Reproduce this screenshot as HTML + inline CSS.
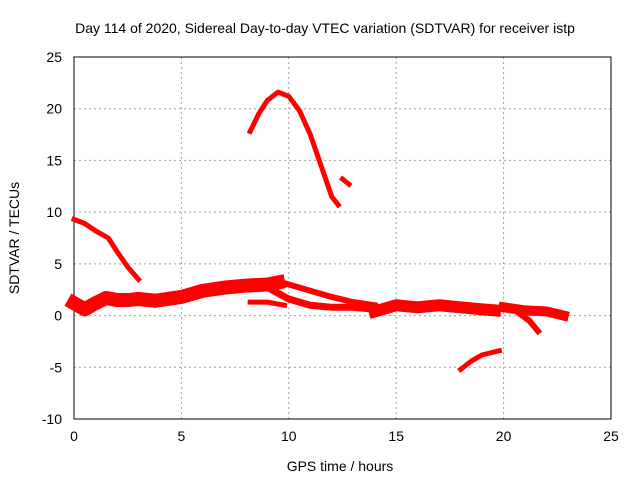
<!DOCTYPE html>
<html><head><meta charset="utf-8"><style>
body{margin:0;background:#fff}
svg{display:block;font-family:"Liberation Sans",sans-serif}
</style></head><body>
<svg id="c" width="640" height="480">
<rect width="640" height="480" fill="#fff"/>
</svg>
<script>
const xTicks=[0,5,10,15,20,25];
const yTicks=[-10,-5,0,5,10,15,20,25];
const trackArc=[[8.2,17.8],[8.6,19.5],[9.0,20.8],[9.5,21.6],[10.0,21.2],[10.5,19.8],[11.0,17.5],[11.5,14.5],[12.0,11.5],[12.3,10.7]];
const trackArcTail=[[12.5,13.2],[12.8,12.7]];
const trackMorning=[[0,9.3],[0.5,8.9],[1,8.2],[1.6,7.5],[2.0,6.2],[2.5,4.7],[3.0,3.5]];
const trackBandA=[[0,1.2],[0.5,0.6],[1,1.2],[1.5,1.7],[2,1.5],[2.5,1.5],[3,1.6],[3.5,1.5]];
const trackBandB=[[4,1.5],[5,1.8],[6,2.4],[7,2.7],[8,2.9],[9,3.0],[9.5,3.2]];
const trackBandC=[[9.5,3.3],[10,3.0],[11,2.4],[12,1.8],[13,1.3],[14,1.0]];
const trackBandD=[[9.2,2.5],[10,1.6],[11,1.0],[12,0.8],[13,0.8],[14,0.6]];
const trackBandE=[[8.2,1.3],[9.0,1.3],[9.8,1.0]];
const trackBandF=[[14,0.4],[15,1.0],[16,0.8],[17,1.0],[18,0.8],[19,0.6],[19.6,0.5]];
const trackBandG=[[20,0.8],[21,0.5],[22,0.4],[22.8,0]];
const trackDip=[[20.6,0.4],[21.2,-0.5],[21.6,-1.5]];
const trackNeg=[[18.0,-5.2],[18.5,-4.4],[19,-3.8],[19.8,-3.4]];
const tracks=[[trackArc,5],[trackArcTail,5],[trackMorning,5],[trackBandA,14],[trackBandB,14],[trackBandC,6],[trackBandD,7],[trackBandE,5],[trackBandF,12],[trackBandG,10],[trackDip,6],[trackNeg,5]];
const X0=74,X1=611,Y0=419,Y1=57;
const sx=v=>X0+(v-0)/25*(X1-X0);
const sy=v=>Y0-(v+10)/35*(Y0-Y1);
const svg=document.getElementById('c');
const NS='http://www.w3.org/2000/svg';
function mk(t,a){const e=document.createElementNS(NS,t);for(const k in a)e.setAttribute(k,a[k]);svg.appendChild(e);return e;}
xTicks.forEach(t=>{
 if(t>0&&t<25){const g=mk('line',{x1:sx(t),x2:sx(t),y1:Y1,y2:Y0,stroke:'#a0a0a0','stroke-dasharray':'2,3'});
 
 }
 const l=mk('text',{x:sx(t),y:441,'text-anchor':'middle','font-size':14,fill:'#000'});l.textContent=t;
 
 
});
yTicks.forEach(t=>{
 if(t>-10&&t<25){const g=mk('line',{x1:X0,x2:X1,y1:sy(t),y2:sy(t),stroke:'#a0a0a0','stroke-dasharray':'2,3'});
 
 }
 const l=mk('text',{x:62,y:sy(t)+5,'text-anchor':'end','font-size':14,fill:'#000'});l.textContent=t;
 
 
});
const fr=mk('rect',{x:X0,y:Y1,width:X1-X0,height:Y0-Y1,fill:'none',stroke:'#000'});


tracks.forEach(([pts,w])=>{
 const p=mk('polyline',{points:pts.map(q=>sx(q[0])+','+sy(q[1])).join(' '),fill:'none',stroke:'#ff0000','stroke-width':w,'stroke-linejoin':'round','stroke-linecap':'square'});
 
 
});
const tt=mk('text',{x:325,y:33,'text-anchor':'middle','font-size':14,fill:'#000'});tt.textContent='Day 114 of 2020, Sidereal Day-to-day VTEC variation (SDTVAR) for receiver istp';


const xt=mk('text',{x:340,y:471,'text-anchor':'middle','font-size':14,fill:'#000'});xt.textContent='GPS time / hours';


const yt=mk('text',{x:0,y:0,'text-anchor':'middle','font-size':14,fill:'#000',transform:'translate(19,238) rotate(-90)'});yt.textContent='SDTVAR / TECUs';


</script>
</body></html>
